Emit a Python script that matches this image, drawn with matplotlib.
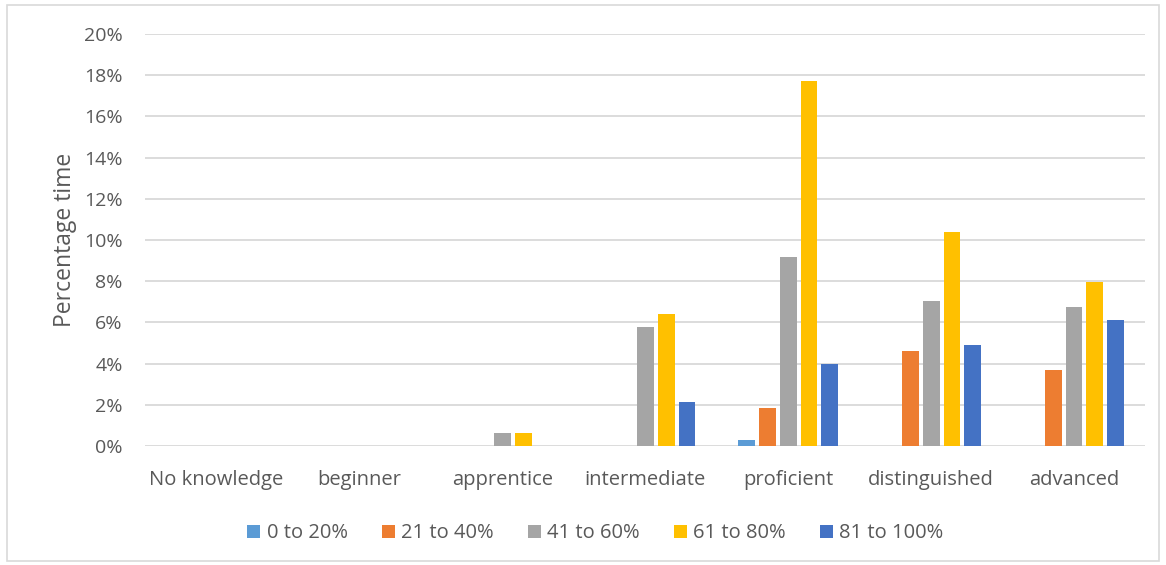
import numpy as np
import matplotlib.pyplot as plt
from matplotlib.patches import Rectangle
from matplotlib.ticker import PercentFormatter

plt.rcParams['font.family'] = ['Open Sans', 'DejaVu Sans']

levels = ["No knowledge", "beginner", "apprentice", "intermediate",
          "proficient", "distinguished", "advanced"]
series = ["0 to 20%", "21 to 40%", "41 to 60%", "61 to 80%", "81 to 100%"]
colors = ["#5B9BD5", "#ED7D31", "#A5A5A5", "#FFC000", "#4472C4"]

# percentage time per level, one list per band
band_0_20 = [0, 0, 0, 0, 0.29, 0, 0]
band_21_40 = [0, 0, 0, 0, 1.84, 4.60, 3.67]
band_41_60 = [0, 0, 0.63, 5.79, 9.17, 7.02, 6.73]
band_61_80 = [0, 0, 0.63, 6.42, 17.73, 10.39, 7.96]
band_81_100 = [0, 0, 0, 2.13, 3.96, 4.90, 6.12]
values = [band_0_20, band_21_40, band_41_60, band_61_80, band_81_100]

text_color = "#595959"
fig = plt.figure(figsize=(11.66, 5.65), dpi=100)
ax = fig.add_axes([0.1244, 0.2106, 0.8580, 0.7292])

x = np.arange(len(levels))
slot = 0.146
width = 0.118
for i, (name, vals, c) in enumerate(zip(series, values, colors)):
    ax.bar(x + (i - 2) * slot, vals, width, color=c, label=name, zorder=3)

ax.set_xlim(-0.5, len(levels) - 0.5)
ax.set_ylim(0, 20)
ax.set_yticks(np.arange(0, 21, 2))
ax.yaxis.set_major_formatter(PercentFormatter(decimals=0))
ax.set_xticks(x)
ax.set_xticklabels(levels)
ax.grid(axis="y", color="#D9D9D9", linewidth=1.3, zorder=0)
for s in ax.spines.values():
    s.set_visible(False)
ax.tick_params(length=0, colors=text_color)
ax.tick_params(axis="y", labelsize=14, pad=16)
ax.tick_params(axis="x", labelsize=14.5, pad=17)
ax.set_ylabel("Percentage time", fontsize=16.5, color=text_color, labelpad=5)

ax.legend(loc="center", bbox_to_anchor=(0.450, -0.212), ncol=5, frameon=False,
          fontsize=14.5, handlelength=0.65, handleheight=0.65, handletextpad=0.3,
          columnspacing=1.7, labelcolor=text_color)

fig.patches.append(Rectangle((0.006, 0.007), 0.988, 0.984, transform=fig.transFigure,
                             fill=False, edgecolor="#D9D9D9", linewidth=1.2))

fig.savefig("out.png", dpi=100)
